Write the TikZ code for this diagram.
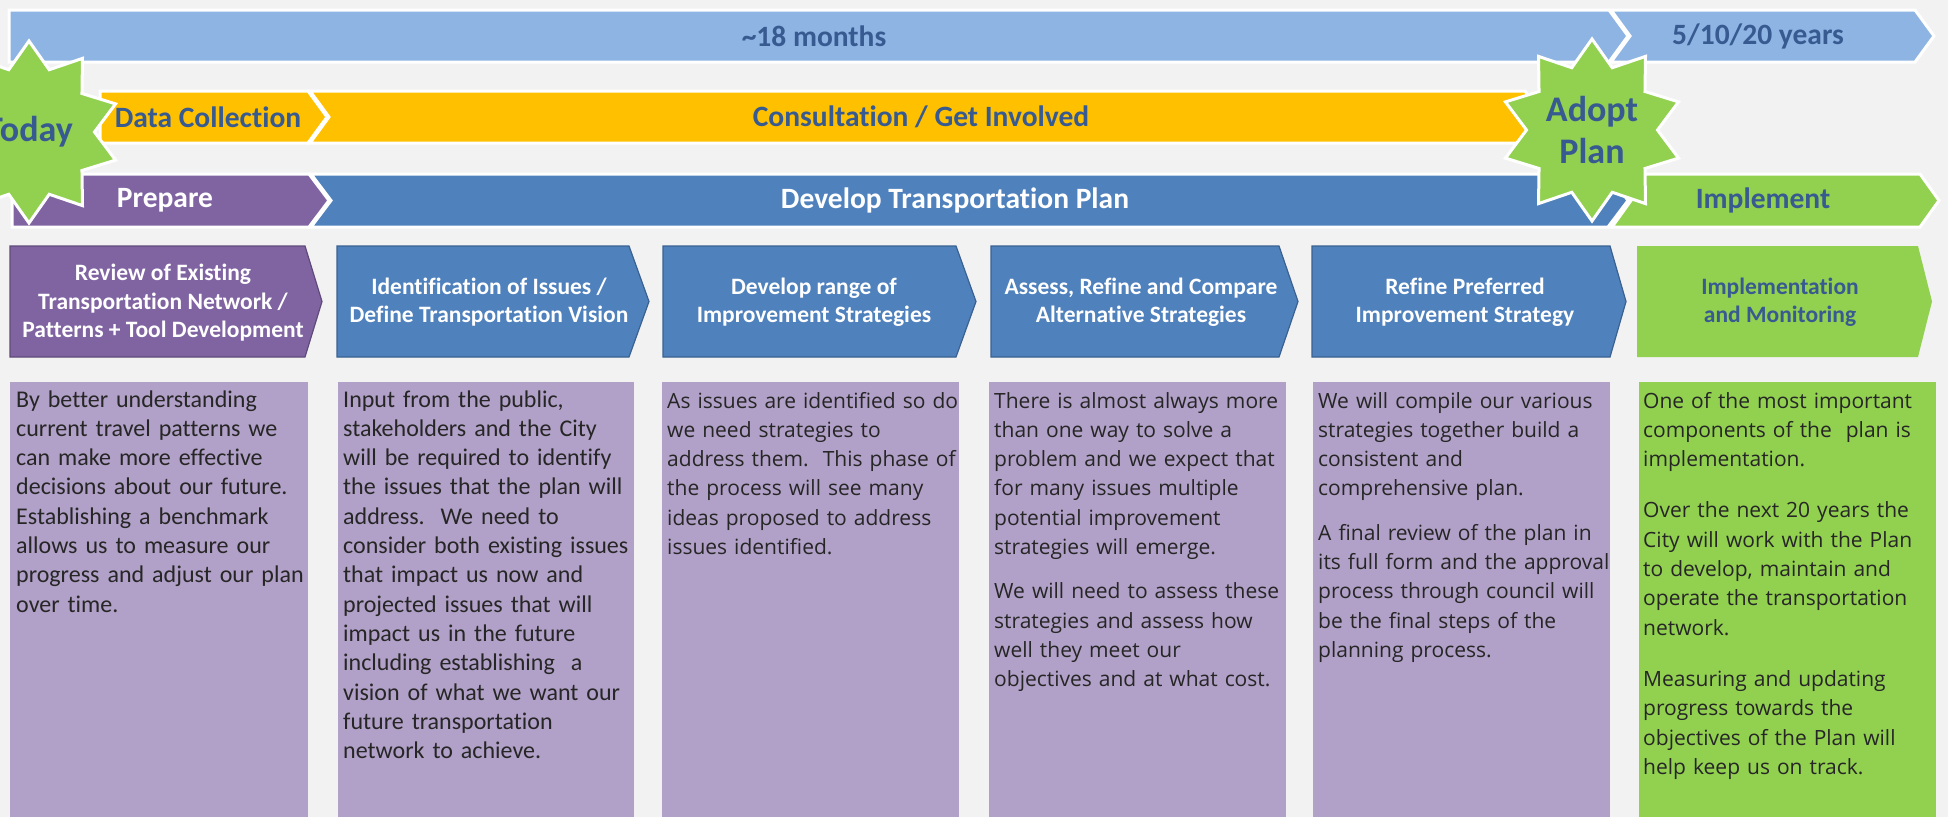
\documentclass[tikz,border=0pt]{standalone}
\usepackage{fontspec}
\setmainfont{Carlito}[Ligatures=NoCommon]
\newfontfamily\bodysans{Open Sans}[Ligatures=NoCommon]
\usetikzlibrary{shapes.geometric}

\definecolor{bgc}{HTML}{F2F2F2}
\definecolor{skyband}{HTML}{8EB4E3}
\definecolor{goldband}{HTML}{FFC000}
\definecolor{plum}{HTML}{8064A2}
\definecolor{steel}{HTML}{4F81BD}
\definecolor{lime}{HTML}{92D050}
\definecolor{lavender}{HTML}{B1A0C7}
\definecolor{navytext}{HTML}{375A91}
\definecolor{inktext}{HTML}{262626}
\definecolor{steeledge}{HTML}{3A6190}
\definecolor{plumedge}{HTML}{5F4A7A}

% pentagon arrow: style, left x, corner x, top y, bottom y, tip depth
\newcommand{\plate}[6]{%
  \path[#1] (#2,#4) -- (#3,#4) -- ({#3+#6},{(#4+#5)/2}) -- (#3,#5) -- (#2,#5) -- cycle;}
% chevron with a notched tail: style, left x, corner x, top y, bottom y, depth
\newcommand{\notched}[6]{%
  \path[#1] (#2,#4) -- (#3,#4) -- ({#3+#6},{(#4+#5)/2}) -- (#3,#5) -- (#2,#5) -- ({#2+#6},{(#4+#5)/2}) -- cycle;}

\tikzset{
  band/.style={draw=white, line width=3pt},
  steptab/.style={draw=#1, line width=1.2pt},
  bandtext/.style={inner sep=0pt, font=\fontsize{29.5}{34}\selectfont\bfseries},
  tabtext/.style={inner sep=0pt, align=center, text=white, font=\fontsize{23.5}{28.5}\selectfont\bfseries},
  burst/.style={star, star points=10, star point ratio=1.39, minimum size=182pt,
    inner sep=0pt, fill=lime, draw=white, line width=3pt, text=navytext, align=center,
    font=\fontsize{36}{42}\selectfont\bfseries},
  panel/.style={anchor=north west, inner sep=0pt, minimum width=#1, minimum height=435pt, fill=lavender},
  bodyA/.style={anchor=base west, inner sep=0pt, align=left, text width=310pt, text=inktext,
    font=\frenchspacing\fontsize{24}{29.3}\selectfont},
  bodyB/.style={anchor=base west, inner sep=0pt, align=left, text width=310pt, text=inktext,
    font=\frenchspacing\bodysans\fontsize{21}{29.3}\selectfont},
}

\begin{document}
\begin{tikzpicture}[x=1pt, y=-1pt]
\useasboundingbox (0,0) rectangle (1948,817);
\fill[bgc] (0,0) rectangle (1948,817);

% timeline bands
\plate{band, fill=skyband}{9}{1609}{10}{62}{19}
\notched{band, fill=skyband}{1611}{1915}{10}{62}{19}
\plate{band, fill=goldband}{100}{308}{91}{143}{19}
\notched{band, fill=goldband}{310}{1525}{91}{143}{19}
\notched{band, fill=steel}{311}{1608}{174}{227}{20}
\plate{band, fill=plum}{12}{309}{174}{227}{20}
\notched{band, fill=lime}{1612}{1920}{174}{227}{19}

\node[bandtext, text=navytext] (months) at (814,36) {\textasciitilde18 months};
\node[bandtext, text=navytext] (years) at (1758,36) {5/10/20 years};
\node[bandtext, text=navytext] (datacol) at (208,117) {Data Collection};
\node[bandtext, text=navytext] (consult) at (921,117) {Consultation / Get Involved};
\node[bandtext, text=white] (prepare) at (165,200) {Prepare};
\node[bandtext, text=white] (develop) at (955,200) {Develop Transportation Plan};
\node[bandtext, text=navytext] (implement) at (1763,200) {Implement};

% milestones
\node[burst] (today) at (29,132) {Today};
\node[burst] (adopt) at (1592,130) {Adopt\\Plan};

% step tabs
\plate{fill=plum, steptab=plumedge}{10}{305}{246}{357}{17}
\plate{fill=steel, steptab=steeledge}{337}{629}{246}{357}{20}
\plate{fill=steel, steptab=steeledge}{663}{956}{246}{357}{20}
\plate{fill=steel, steptab=steeledge}{991}{1279}{246}{357}{19}
\plate{fill=steel, steptab=steeledge}{1312}{1610}{246}{357}{16}
\plate{fill=lime}{1637}{1918}{246}{357}{14}

\node[tabtext] (tab1) at (163,303) {Review of Existing\\Transportation Network /\\Patterns + Tool Development};
\node[tabtext] (tab2) at (489,302) {Identification of Issues /\\Define Transportation Vision};
\node[tabtext] (tab3) at (814,302) {Develop range of\\Improvement Strategies};
\node[tabtext] (tab4) at (1141,302) {Assess, Refine and Compare\\Alternative Strategies};
\node[tabtext] (tab5) at (1465,302) {Refine Preferred\\Improvement Strategy};
\node[tabtext, text=navytext] (tab6) at (1780,302) {Implementation\\and Monitoring};

% description panels
\node[panel=298pt] (pan1) at (10,382) {};
\node[panel=296pt] (pan2) at (338,382) {};
\node[panel=297pt] (pan3) at (662,382) {};
\node[panel=297pt] (pan4) at (989,382) {};
\node[panel=297pt] (pan5) at (1313,382) {};
\node[panel=297pt, fill=lime] (pan6) at (1639,382) {};

\node[bodyA] (txt1) at (16,407) {By better understanding\\current travel patterns we\\can make more effective\\decisions about our future.\\Establishing a benchmark\\allows us to measure our\\progress and adjust our plan\\over time.};
\node[bodyA] (txt2) at (343,407) {Input from the public,\\stakeholders and the City\\will be required to identify\\the issues that the plan will\\address.~ We need to\\consider both existing issues\\that impact us now and\\projected issues that will\\impact us in the future\\including establishing~ a\\vision of what we want our\\future transportation\\network to achieve.};
\node[bodyB] (txt3) at (667,408) {As issues are identified so do\\we need strategies to\\address them.~ This phase of\\the process will see many\\ideas proposed to address\\issues identified.};
\node[bodyB] (txt4) at (994,408) {There is almost always more\\than one way to solve a\\problem and we expect that\\for many issues multiple\\potential improvement\\strategies will emerge.\\[15pt]We will need to assess these\\strategies and assess how\\well they meet our\\objectives and at what cost.};
\node[bodyB] (txt5) at (1318,408) {We will compile our various\\strategies together build a\\consistent and\\comprehensive plan.\\[15pt]A final review of the plan in\\its full form and the approval\\process through council will\\be the final steps of the\\planning process.};
\node[bodyB] (txt6) at (1643,408) {One of the most important\\components of the~ plan is\\implementation.\\[22pt]Over the next 20 years the\\City will work with the Plan\\to develop, maintain and\\operate the transportation\\network.\\[22pt]Measuring and updating\\progress towards the\\objectives of the Plan will\\help keep us on track.};
\end{tikzpicture}
\end{document}
